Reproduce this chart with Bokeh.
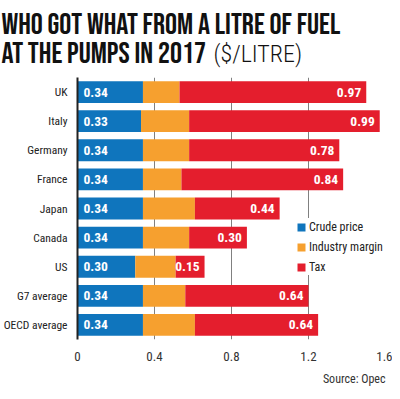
from bokeh.plotting import figure
from bokeh.layouts import column
from bokeh.models import FactorRange, Range1d, FixedTicker, ColumnDataSource, Title
from bokeh.embed import file_html
from bokeh.resources import INLINE
from bokeh.core.properties import value

countries = ["UK", "Italy", "Germany", "France", "Japan", "Canada", "US", "G7 average", "OECD average"]
crude = [0.34, 0.33, 0.34, 0.34, 0.34, 0.34, 0.30, 0.34, 0.34]
margin = [0.19, 0.25, 0.24, 0.20, 0.27, 0.24, 0.21, 0.22, 0.27]
tax = [0.97, 0.99, 0.78, 0.84, 0.44, 0.30, 0.15, 0.64, 0.64]
series_names = ["Crude price", "Industry margin", "Tax"]
series_colors = ["#0f75bd", "#f6a02f", "#e41e2d"]
xtick_values = [0, 0.4, 0.8, 1.2, 1.6]
xtick_labels = ["0", "0.4", "0.8", "1.2", "1.6"]
title_line1 = "WHO GOT WHAT FROM A LITRE OF FUEL"
title_line2 = "AT THE PUMPS IN 2017"
title_unit = "($/LITRE)"
source_note = "Source: Opec"

FONT = "Roboto Condensed"
TITLE_FONT = "Bebas Neue"
LIGHT_FONT = "Roboto Condensed Light"
W = 392
TH = 74

# ---- title strip (its own small figure, pixel coordinates) ----
tp = figure(width=W, height=TH, x_range=Range1d(0, W), y_range=Range1d(TH, 0),
            output_backend="svg", toolbar_location=None, min_border=0,
            x_axis_location=None, y_axis_location=None)
tp.grid.visible = False
tp.outline_line_color = None
tp.frame_align = False
tp.text(x=[1], y=[24], text=[title_line1], text_font=value(TITLE_FONT), text_font_size="30px",
        text_baseline="alphabetic", text_color="#111111")
tp.text(x=[1], y=[53], text=[title_line2], text_font=value(TITLE_FONT), text_font_size="30px",
        text_baseline="alphabetic", text_color="#111111")
tp.text(x=[213], y=[53], text=[title_unit], text_font=value(LIGHT_FONT), text_font_size="24px",
        text_baseline="alphabetic", text_color="#111111")

# ---- main chart ----
totals = [c + m + t for c, m, t in zip(crude, margin, tax)]
src = ColumnDataSource(dict(
    country=countries, crude=crude, margin=margin, tax=tax, total=totals,
    crude_lbl=[f"{v:.2f}" for v in crude], tax_lbl=[f"{v:.2f}" for v in tax],
))

p = figure(width=W, height=391 - TH,
           y_range=FactorRange(factors=countries[::-1], range_padding=0),
           x_range=Range1d(0, 1.6),
           output_backend="svg", toolbar_location=None,
           min_border_left=60, min_border_right=7, min_border_top=3, min_border_bottom=45)
p.frame_align = False
p.outline_line_color = None
p.background_fill_color = "white"

p.hbar_stack(["crude", "margin", "tax"], y="country", height=0.75,
             fill_color=series_colors, line_color=None, source=src,
             legend_label=series_names)

p.text(x=0, y="country", text="crude_lbl", source=src, x_offset=6,
       text_baseline="middle", text_align="left", text_color="white",
       text_font=value(FONT), text_font_size="13.5px", text_font_style="bold")
p.text(x="total", y="country", text="tax_lbl", source=src, x_offset=-5,
       text_baseline="middle", text_align="right", text_color="white",
       text_font=value(FONT), text_font_size="13.5px", text_font_style="bold")

xa = p.xaxis[0]
xa.ticker = FixedTicker(ticks=xtick_values)
xa.major_label_overrides = dict(zip(xtick_values, xtick_labels))
xa.axis_line_color = None
xa.major_tick_line_color = None
xa.minor_tick_line_color = None
xa.major_label_standoff = 6
xa.major_label_text_font = FONT
xa.major_label_text_font_size = "13px"
xa.major_label_text_color = "#333333"

ya = p.yaxis[0]
ya.axis_line_color = "#222222"
ya.axis_line_width = 2
ya.major_tick_line_color = None
ya.minor_tick_line_color = None
ya.major_label_standoff = 4
ya.major_label_text_font = FONT
ya.major_label_text_font_size = "11.5px"
ya.major_label_text_color = "#222222"

p.xgrid.ticker = FixedTicker(ticks=xtick_values)
p.xgrid.grid_line_color = "#808080"
p.xgrid.grid_line_width = 1
p.ygrid.grid_line_color = None

lg = p.legend[0]
lg.location = (219, 64)
lg.padding = 4
lg.margin = 0
lg.spacing = 3
lg.label_height = 17
lg.glyph_height = 10
lg.glyph_width = 10
lg.label_standoff = 3
lg.border_line_color = None
lg.background_fill_color = "white"
lg.background_fill_alpha = 1
lg.label_text_font = FONT
lg.label_text_font_size = "12px"
lg.label_text_color = "#222222"

p.add_layout(Title(text=source_note, align="right", text_font=FONT, text_font_size="12px",
                   text_font_style="normal", text_color="#333333", standoff=12), "below")

layout = column(tp, p, spacing=0)
open("out.html", "w").write(file_html(layout, INLINE))
